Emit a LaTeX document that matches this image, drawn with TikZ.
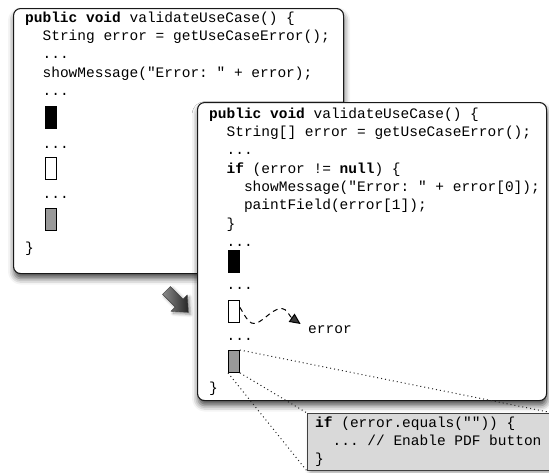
\documentclass[tikz,border=0pt]{standalone}
\usepackage{fontspec}
\setmonofont{Liberation Mono}
\usepackage{tikz}
\usetikzlibrary{positioning, shadows.blur, arrows.meta}

\newcommand{\codefont}{\ttfamily\fontsize{14.5}{18.3}\selectfont}
\newcommand{\ind}{\hphantom{xx}}
\newcommand{\kw}[1]{\textbf{#1}}

\tikzstyle{codeframe} = [rectangle, rounded corners=7pt, draw=black!90, line width=1.1pt, fill=white, anchor=north west, blur shadow={shadow xshift=0.5pt, shadow yshift=-5pt, shadow blur radius=6pt, shadow opacity=70}]
\tikzstyle{codetext} = [font=\codefont, inner sep=0pt, align=left, anchor=north west]
\tikzstyle{codeline} = [font=\codefont, inner sep=0pt, anchor=base west]
\tikzstyle{patch} = [rectangle, draw=black, line width=0.9pt, minimum width=11pt, minimum height=22pt, inner sep=0pt, anchor=north west]
\tikzstyle{flow} = [line width=1pt, dash pattern=on 5pt off 4pt, -{Triangle[length=11pt, width=10pt]}]
\tikzstyle{zoomline} = [black!85, line width=1pt, dash pattern=on 1pt off 3pt]
\tikzstyle{blockarrow} = [left color=black!45, right color=black!85, draw=black!75, line width=0.4pt, blur shadow={shadow yshift=-2pt, shadow blur radius=3pt, shadow opacity=45}]

\begin{document}
\begin{tikzpicture}[x=1pt, y=-1pt]
    \useasboundingbox (0,0) rectangle (549,472);

    % old version of the method
    \node[codeframe, minimum width=330pt, minimum height=265pt] (oldframe) at (13,8) {};
    \node[codetext] (oldhead) at (25,9.5) {\rule{0pt}{12.5pt}\kw{public void} validateUseCase() \{\\
        \ind String error = getUseCaseError();\\
        \ind ...\\
        \ind showMessage("Error: " + error);\\
        \ind ...};
    \node[patch, fill=black]   (oldblack) at (45,106) {};
    \node[codeline]            (olddots1) at (42.4,148) {...};
    \node[patch, fill=white]   (oldwhite) at (45,157) {};
    \node[codeline]            (olddots2) at (42.4,198) {...};
    \node[patch, fill=black!40] (oldgray) at (45,208) {};
    \node[codeline]            (oldend)   at (25,252) {\}};

    % refactored version
    \node[codeframe, minimum width=349pt, minimum height=298pt] (newframe) at (197,102) {};
    \node[codetext] (newhead) at (209,105.5) {\rule{0pt}{12.5pt}\kw{public void} validateUseCase() \{\\
        \ind String[] error = getUseCaseError();\\
        \ind ...\\
        \ind \kw{if} (error != \kw{null}) \{\\
        \ind\ind showMessage("Error: " + error[0]);\\
        \ind\ind paintField(error[1]);\\
        \ind \}\\
        \ind ...};
    \node[patch, fill=black]   (newblack) at (228,250) {};
    \node[codeline]            (newdots1) at (226.4,289) {...};
    \node[patch, fill=white]   (newwhite) at (228,300) {};
    \node[codeline]            (newdots2) at (226.4,340) {...};
    \node[patch, fill=black!40] (newgray) at (228,350) {};
    \node[codeline]            (newend)   at (209,392) {\}};

    % block arrow between the two versions
    \path[blockarrow, shift={(177,301)}, rotate=-45]
        (-15,-5.5) -- (3,-5.5) -- (3,-11.5) -- (16,0) -- (3,11.5) -- (3,5.5) -- (-15,5.5) -- cycle;

    % the returned error
    \node[codeline] (errlabel) at (308,333) {error};
    \coordinate (wavemid) at (267,316);
    \draw[flow, shorten >=9pt] (newwhite.35) to[out=-60, in=220, looseness=1.8] (wavemid)
        to[out=40, in=145, looseness=1.5] (errlabel.west);

    % enlarged snippet
    \node[rectangle, draw=black!75, line width=1pt, fill=black!15, minimum width=245pt, minimum height=57pt, anchor=north west,
          blur shadow={shadow yshift=-3pt, shadow blur radius=4pt, shadow opacity=35}] (snippet) at (307,413) {};
    \node[codetext] (snippettext) at (315,414.5) {\rule{0pt}{12.5pt}\kw{if} (error.equals("")) \{\\
        \ind ... // Enable PDF button\\
        \}};

    \draw[zoomline] (newgray.north east) -- (snippet.north east);
    \draw[zoomline] (newgray.south east) -- (snippet.north west);
    \draw[zoomline] (newgray.south west) -- (snippet.south west);
\end{tikzpicture}
\end{document}
